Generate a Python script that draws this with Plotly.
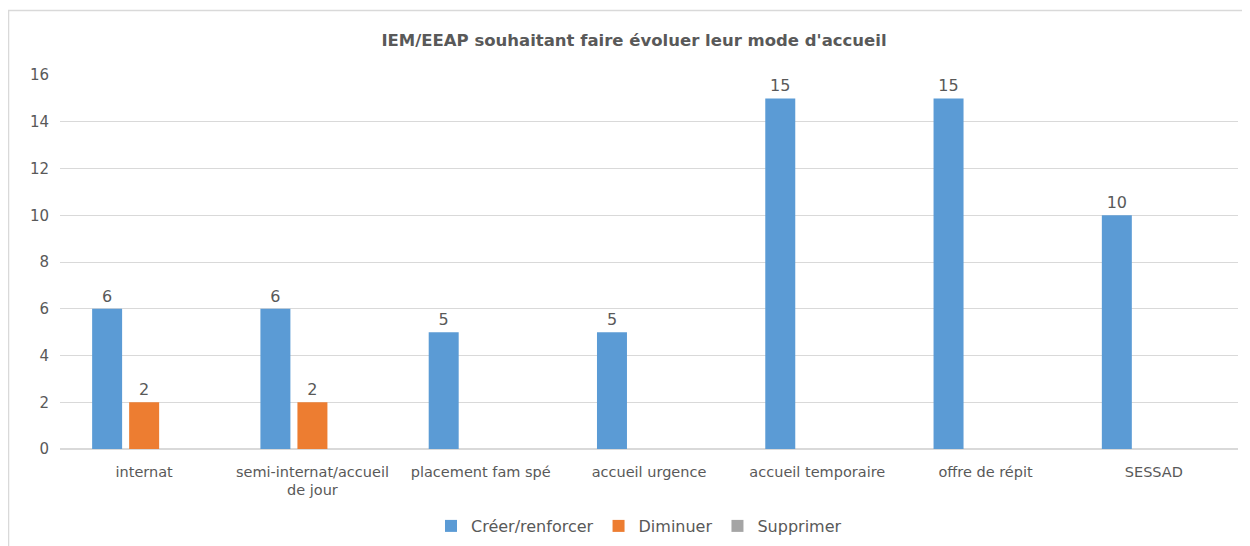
import plotly.graph_objects as go

categories = ["internat", "semi-internat/accueil<br>de jour", "placement fam spé",
              "accueil urgence", "accueil temporaire", "offre de répit", "SESSAD"]
creer = [6, 6, 5, 5, 15, 15, 10]
diminuer = [2, 2, None, None, None, None, None]
supprimer = [None, None, None, None, None, None, None]
series_names = ["Créer/renforcer", "Diminuer", "Supprimer"]
colors = ["#5B9BD5", "#ED7D31", "#A5A5A5"]
y_ticks = [0, 2, 4, 6, 8, 10, 12, 14, 16]

FONT = "DejaVu Sans, Open Sans, sans-serif"
GRAY = "#595959"
W, H = 1242, 538

fig = go.Figure()
for name, vals, col in zip(series_names, [creer, diminuer, supprimer], colors):
    fig.add_trace(go.Bar(
        x=categories, y=vals, name=name, marker=dict(color=col, line=dict(width=0)),
        text=[("" if v is None else str(v)) for v in vals],
        textposition="outside", cliponaxis=False,
        textfont=dict(size=16, color=GRAY, family=FONT),
    ))

fig.update_layout(
    width=W, height=H,
    paper_bgcolor="white", plot_bgcolor="white",
    margin=dict(l=52, r=12, t=67, b=97, autoexpand=False),
    barmode="group", bargap=0.34, bargroupgap=0.19,
    font=dict(family=FONT, color=GRAY, size=14),
    title=dict(text="<b>IEM/EEAP souhaitant faire évoluer leur mode d'accueil</b>",
               x=626 / W, xanchor="center", y=1 - 32 / H, yanchor="middle",
               font=dict(size=16.5, color=GRAY, family=FONT)),
    legend=dict(orientation="h", x=0.4915, xanchor="center",
                yref="container", y=1 - 518 / H, yanchor="middle",
                font=dict(size=16, color=GRAY, family=FONT), itemwidth=30,
                traceorder="normal"),
    yaxis=dict(range=[0, 16], tickvals=y_ticks, showgrid=True, gridcolor="#D9D9D9",
               gridwidth=1, zeroline=True, zerolinecolor="#D9D9D9", showline=False,
               ticks="", tickfont=dict(size=15, color=GRAY), ticklabelstandoff=10,
               automargin=False),
    xaxis=dict(showline=False, ticks="", tickfont=dict(size=14.5, color=GRAY),
               tickangle=0, ticklabelstandoff=12, automargin=False),
    shapes=[dict(type="rect", xref="paper", yref="paper",
                 x0=-0.0437, x1=1.05, y0=-0.5, y1=1.1725,
                 line=dict(color="#D9D9D9", width=1.5), fillcolor="rgba(0,0,0,0)",
                 layer="below")],
)

fig.write_html("out.html")
